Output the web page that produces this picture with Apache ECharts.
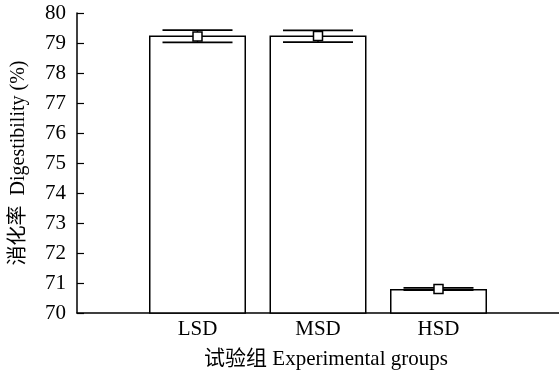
<!DOCTYPE html>
<html>
<head>
<meta charset="utf-8">
<script src="https://cdn.jsdelivr.net/npm/echarts@6/dist/echarts.min.js"></script>
<style>html,body{margin:0;padding:0;background:#fff}#c{width:559px;height:377px}</style>
</head>
<body>
<div id="c"></div>
<script>
var categories = ['', 'LSD', 'MSD', 'HSD', ''];
var barValues = [null, 79.25, 79.25, 70.8, null];
var meanValues = [null, 79.22, 79.23, 70.80, null];
var errLow = [null, 79.02, 79.03, 70.765, null];
var errHigh = [null, 79.43, 79.42, 70.835, null];
var yTicks = [70, 71, 72, 73, 74, 75, 76, 77, 78, 79, 80];

var font = '"Liberation Serif", "Times New Roman", serif';
var chart = echarts.init(document.getElementById('c'));

var errData = [];
for (var i = 0; i < categories.length; i++) {
  if (meanValues[i] != null) errData.push([i, meanValues[i], errLow[i], errHigh[i]]);
}

chart.setOption({
  animation: false,
  backgroundColor: '#fff',
  grid: { left: 77, right: 0, top: 13, bottom: 64 },
  xAxis: {
    type: 'category',
    data: categories,
    boundaryGap: false,
    axisLine: { lineStyle: { color: '#000', width: 1.5 } },
    axisTick: { inside: true, length: 5, lineStyle: { color: '#000', width: 1.2 },
      interval: function (idx) { return idx >= 1 && idx <= 3; } },
    axisLabel: { color: '#000', fontFamily: font, fontSize: 21, margin: 6,
      interval: function (idx) { return idx >= 1 && idx <= 3; } },
    splitLine: { show: false },
    name: '试验组 Experimental groups',
    nameLocation: 'middle',
    nameGap: 36,
    nameTextStyle: { color: '#000', fontFamily: font + ', "Noto Sans CJK SC"', fontSize: 21, padding: [0, 0, 0, 16] }
  },
  yAxis: {
    type: 'value',
    min: yTicks[0],
    max: yTicks[yTicks.length - 1],
    interval: 1,
    axisLine: { show: true, lineStyle: { color: '#000', width: 1.5 } },
    axisTick: { show: true, inside: true, length: 7, lineStyle: { color: '#000', width: 1.2 } },
    axisLabel: { color: '#000', fontFamily: font, fontSize: 21, margin: 11 },
    splitLine: { show: false },
    name: '消化率  Digestibility (%)',
    nameLocation: 'middle',
    nameGap: 48,
    nameTextStyle: { color: '#000', fontFamily: font + ', "Noto Sans CJK SC"', fontSize: 20 }
  },
  series: [
    {
      type: 'bar',
      data: barValues,
      barWidth: 97,
      itemStyle: { color: '#fff', borderColor: '#000', borderWidth: 1.5 },
      z: 2
    },
    {
      type: 'custom',
      data: errData,
      z: 5,
      renderItem: function (params, api) {
        var x = api.value(0);
        var pm = api.coord([x, api.value(1)]);
        var pl = api.coord([x, api.value(2)]);
        var ph = api.coord([x, api.value(3)]);
        var hw = 35;
        var s = 4.5;
        var ls = { stroke: '#000', lineWidth: 1.8 };
        return {
          type: 'group',
          children: [
            { type: 'line', shape: { x1: pm[0], y1: ph[1], x2: pm[0], y2: pl[1] }, style: { stroke: '#000', lineWidth: 1.5 } },
            { type: 'line', shape: { x1: pm[0] - hw, y1: ph[1], x2: pm[0] + hw, y2: ph[1] }, style: ls },
            { type: 'line', shape: { x1: pm[0] - hw, y1: pl[1], x2: pm[0] + hw, y2: pl[1] }, style: ls },
            { type: 'rect', shape: { x: pm[0] - s, y: pm[1] - s, width: 2 * s, height: 2 * s },
              style: { fill: '#fff', stroke: '#000', lineWidth: 1.5 } }
          ]
        };
      }
    }
  ]
});
</script>
</body>
</html>
